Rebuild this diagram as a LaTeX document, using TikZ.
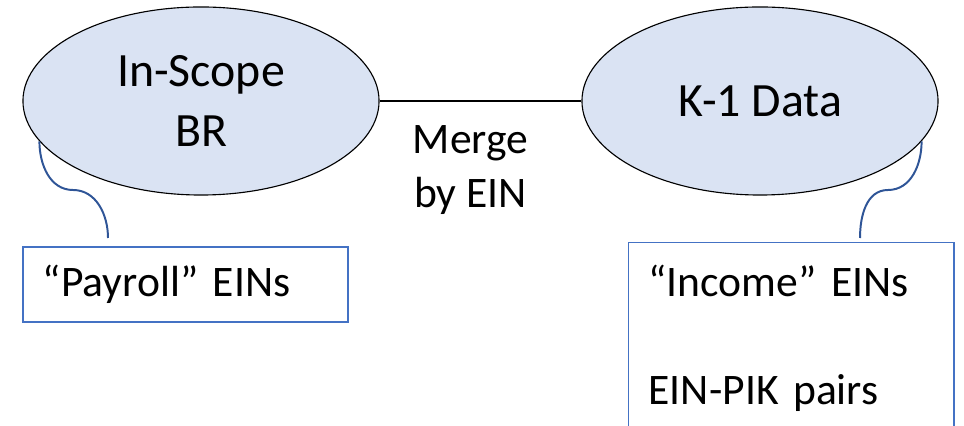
\documentclass[tikz,border=0pt]{standalone}
\usepackage{fontspec}
\setmainfont{Carlito}
\usepackage{tikz}
\usetikzlibrary{shapes.geometric, positioning}
\usepackage{xcolor}
\definecolor{ovalfill}{HTML}{DAE3F3}
\definecolor{boxblue}{HTML}{4472C4}
\definecolor{linkblue}{HTML}{2F5597}

\begin{document}
\begin{tikzpicture}[
    x=0.025cm, y=0.025cm,
    source/.style={ellipse, draw, line width=0.8pt, fill=ovalfill, minimum width=8.9cm, minimum height=4.7cm, inner sep=0pt, align=center, font=\fontsize{34pt}{42.7pt}\selectfont},
    keybox/.style={rectangle, draw=boxblue, line width=1pt, minimum width=8.125cm, text width=7.125cm, inner xsep=0.5cm, align=left, font=\fontsize{31pt}{38.4pt}\selectfont},
    merge/.style={line width=0.9pt},
    hook/.style={draw=linkblue, line width=1.4pt}
]
    \useasboundingbox (0,0) rectangle (964,426);
    \clip (0,0) rectangle (964,426);

    % Data sources
    \node[source] (inscope) at (201,325) {In-Scope\\BR};
    \node[source] (k1) at (760,325) {K-1 Data};

    \draw[merge] (inscope) -- node[below=0.47cm, xshift=-0.25cm, align=center, font=\fontsize{31pt}{38.4pt}\selectfont] (mergelbl) {Merge\\by EIN} (k1);

    % Identifier boxes
    \node[keybox, minimum height=1.875cm] (payroll) at (185.5,141.5) {“Payroll” EINs};
    \node[keybox, anchor=north west, inner ysep=0.55cm] (income) at (628,184) {“Income” EINs\\[38.4pt]EIN-PIK pairs};

    % Links from sources to boxes
    \coordinate (lmid) at (73,236);
    \coordinate (lend) at (108,188);
    \coordinate (rmid) at (888,236);
    \coordinate (rend) at (860,188);
    \draw[hook] (inscope.194) to[out=-90, in=180] (lmid) to[out=0, in=90] (lend);
    \draw[hook] (k1.346) to[out=-90, in=0] (rmid) to[out=180, in=90] (rend);
\end{tikzpicture}
\end{document}
